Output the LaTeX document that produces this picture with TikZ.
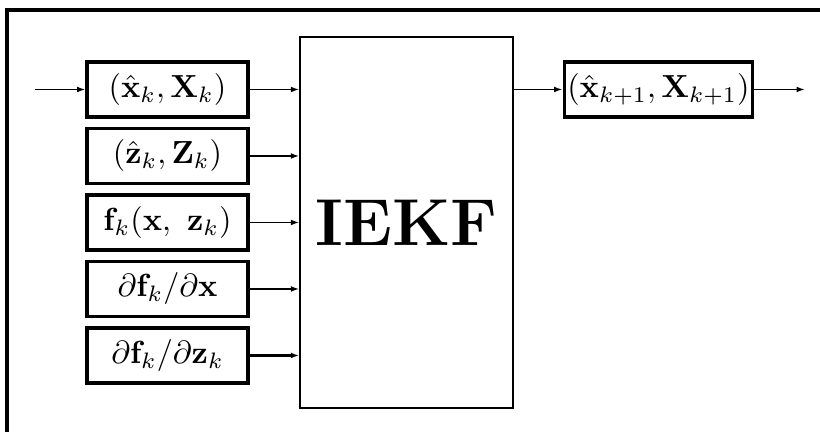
\documentclass[tikz,border=0pt]{standalone}
\usepackage{amsmath}
\usetikzlibrary{arrows.meta}

\begin{document}
\begin{tikzpicture}[
    box/.style={draw, line width=1pt, minimum width=1.77cm, minimum height=0.605cm, inner sep=1pt},
    feed/.style={-{Latex[length=2.6pt, width=1.8pt]}, line width=0.5pt}
  ]
  \useasboundingbox (0, 0) rectangle (9.02, 4.752);

  % frame
  \draw[line width=1.1pt] (0.077, 0) -- (0.077, 4.642) -- (9.1, 4.642);

  \node[box] (xk) at (1.8425, 3.7675) {$(\hat{\mathbf{x}}_k, \mathbf{X}_k)$};
  \node[box] (zk) at (1.8425, 3.036) {$(\hat{\mathbf{z}}_k, \mathbf{Z}_k)$};
  \node[box] (fk) at (1.8425, 2.3045) {$\mathbf{f}_k(\mathbf{x},\ \mathbf{z}_k)$};
  \node[box] (dfx) at (1.8425, 1.573) {$\partial\mathbf{f}_k/\partial\mathbf{x}$};
  \node[box] (dfz) at (1.8425, 0.8415) {$\partial\mathbf{f}_k/\partial\mathbf{z}_k$};

  \node[draw, line width=0.45pt, minimum width=2.343cm, minimum height=4.081cm] (iekf) at (4.4715, 2.3045)
    {\huge\bfseries IEKF};

  \node[box, minimum width=2.057cm] (xnext) at (7.2435, 3.7675)
    {$(\hat{\mathbf{x}}_{k+1}, \mathbf{X}_{k+1})$};

  \coordinate (in) at (0.385, 3.7675);
  \coordinate (out) at (8.855, 3.7675);

  \draw[feed] (in) -- (xk);
  \draw[feed] (xk) -- (xk -| iekf.west);
  \draw[feed] (zk) -- (zk -| iekf.west);
  \draw[feed] (fk) -- (fk -| iekf.west);
  \draw[feed] (dfx) -- (dfx -| iekf.west);
  \draw[feed, line width=0.75pt] (dfz) -- (dfz -| iekf.west);
  \draw[feed] (iekf.east |- xnext) -- (xnext);
  \draw[feed] (xnext) -- (out);
\end{tikzpicture}
\end{document}
